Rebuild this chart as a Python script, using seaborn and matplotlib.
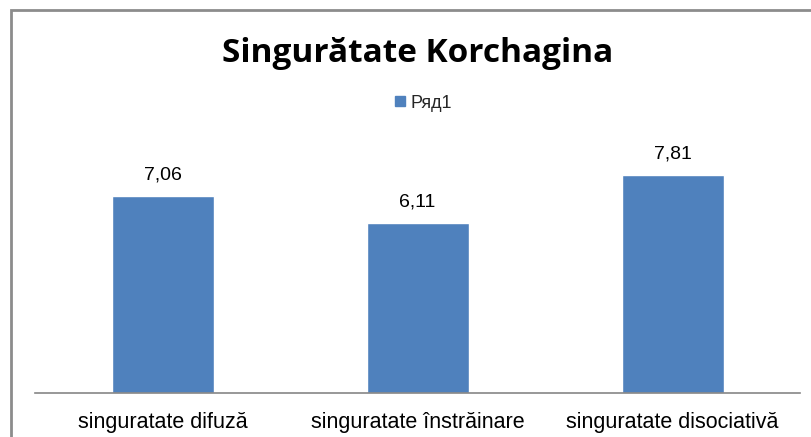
import matplotlib
matplotlib.use("Agg")
import matplotlib.pyplot as plt
import seaborn as sns
import pandas as pd
from matplotlib.patches import Rectangle
from matplotlib.lines import Line2D

categories = ["singuratate difuză", "singuratate înstrăinare", "singuratate disociativă"]
values = [7.06, 6.11, 7.81]
series_name = "Ряд1"
title = "Singurătate Korchagina"

sns.set_theme(style="white")
plt.rcParams['font.family'] = ['Liberation Sans', 'DejaVu Sans']

W, H = 811, 437
fig = plt.figure(figsize=(W/100, H/100), dpi=100)
ax = fig.add_axes([35/W, (H-393)/H, (800-35)/W, (393-114)/H])

df = pd.DataFrame({"cat": categories, "val": values})
sns.barplot(data=df, x="cat", y="val", color="#4F81BD", saturation=1, width=0.4, ax=ax)

ax.set_xlim(-0.5, 2.5)
ax.set_ylim(0, 10)
ax.set_xlabel("")
ax.set_ylabel("")
ax.set_yticks([])
for s in ["left", "right", "top"]:
    ax.spines[s].set_visible(False)
ax.spines["bottom"].set_color("#868686")
ax.spines["bottom"].set_linewidth(1.2)
ax.tick_params(axis="x", length=0, labelsize=15.5, pad=14, colors="black")

ax.bar_label(ax.containers[0], labels=[f"{v:.2f}".replace(".", ",") for v in values],
             padding=9, fontsize=14, color="black")

fig.text(418/W, 1 - 54/H, title, ha="center", va="center", fontsize=24,
         fontweight="bold", family=["Open Sans", "DejaVu Sans"], color="black")

handle = Line2D([], [], marker="s", linestyle="none", markersize=7,
                markerfacecolor="#4F81BD", markeredgecolor="#4F81BD")
fig.legend([handle], [series_name], loc="center", bbox_to_anchor=(423/W, 1 - 103/H),
           frameon=False, fontsize=13, handletextpad=0.2, handlelength=0.7)

fig.add_artist(Rectangle((11/W, -0.1), 1.2, 1 - 10/H + 0.1, transform=fig.transFigure,
                         fill=False, edgecolor="#8C8C8C", linewidth=2, clip_on=False))

fig.savefig("out.png", dpi=100, facecolor="white")
